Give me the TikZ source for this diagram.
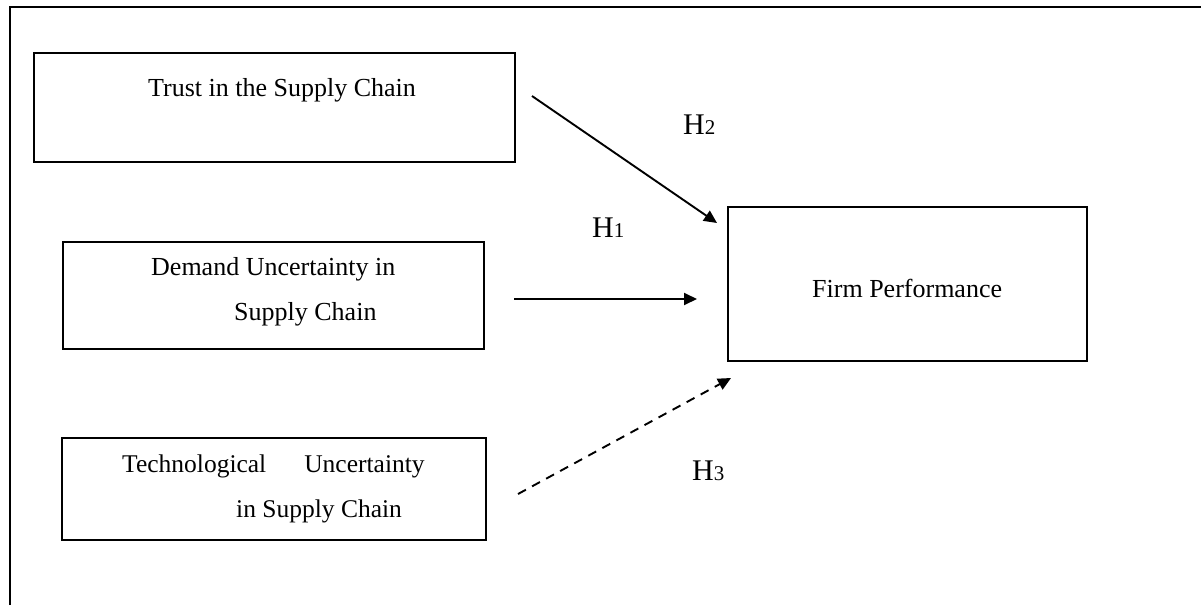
\documentclass[tikz,border=0pt]{standalone}
\usepackage{fontspec}
\setmainfont{Liberation Serif}
\usetikzlibrary{arrows.meta}
\begin{document}
\begin{tikzpicture}[x=1pt,y=-1pt,
  box/.style={draw, line width=2pt, inner sep=0pt, anchor=north west},
  lbl/.style={anchor=base west, inner sep=0pt, font=\fontsize{26}{30}\selectfont},
  lbltech/.style={anchor=base west, inner sep=0pt, font=\fontsize{25.5}{30}\selectfont},
  hyp/.style={anchor=base west, inner sep=0pt, font=\fontsize{30}{36}\selectfont},
  arr/.style={line width=1.9pt, -{Triangle[length=13pt,width=12pt]}},
  dasharr/.style={arr, dash pattern=on 9pt off 7pt},
]
\useasboundingbox (0,0) rectangle (1201,605);
% outer frame (left and top edges)
\coordinate (fbl) at (9.5,605);
\coordinate (ftl) at (9.5,7);
\coordinate (ftr) at (1201,7);
\draw[line width=2pt] (fbl) -- (ftl) -- (ftr);

% boxes
\node[box, minimum width=481pt, minimum height=109pt] (trust) at (33,52) {};
\node[box, minimum width=421pt, minimum height=107pt] (demand) at (62,241) {};
\node[box, minimum width=424pt, minimum height=102pt] (tech) at (61,437) {};
\node[box, minimum width=359pt, minimum height=154pt] (firm) at (727,206) {};

% box texts
\node[lbl] (ttrust) at (148,96) {Trust in the Supply Chain};
\node[lbl] (tdem1) at (151,275) {Demand Uncertainty in};
\node[lbl] (tdem2) at (234,320) {Supply Chain};
\node[lbltech] (ttech1) at (122,472) {Technological\hspace{38pt}Uncertainty};
\node[lbltech] (ttech2) at (236,517) {in Supply Chain};
\node[lbl] (tfirm) at (812,297) {Firm Performance};

% hypothesis labels
\node[hyp] (h2) at (683,134) {H{\fontsize{21}{25}\selectfont 2}};
\node[hyp] (h1) at (592,237) {H{\fontsize{21}{25}\selectfont 1}};
\node[hyp] (h3) at (692,480) {H{\fontsize{21}{25}\selectfont 3}};

% arrows
\coordinate (a2s) at (532,96);
\coordinate (a2e) at (717,223);
\coordinate (a1s) at (514,299);
\coordinate (a1e) at (697,299);
\coordinate (a3s) at (518,494);
\coordinate (a3e) at (731,378);
\draw[arr] (a2s) -- (a2e);
\draw[arr] (a1s) -- (a1e);
\draw[dasharr] (a3s) -- (a3e);
\end{tikzpicture}
\end{document}
